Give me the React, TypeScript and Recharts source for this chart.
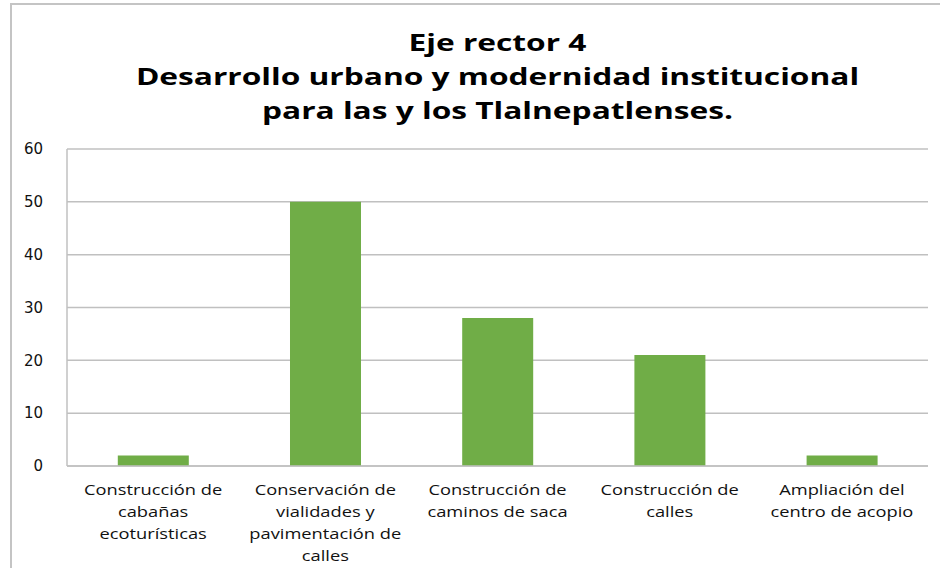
import { BarChart, Bar, CartesianGrid, XAxis, YAxis } from "recharts";

const categories = [
  "Construcción de cabañas ecoturísticas",
  "Conservación de vialidades y pavimentación de calles",
  "Construcción de caminos de saca",
  "Construcción de calles",
  "Ampliación del centro de acopio",
];

const tickLines = [
  ["Construcción de", "cabañas", "ecoturísticas"],
  ["Conservación de", "vialidades y", "pavimentación de", "calles"],
  ["Construcción de", "caminos de saca"],
  ["Construcción de", "calles"],
  ["Ampliación del", "centro de acopio"],
];

const values = [2, 50, 28, 21, 2];

const yTicks = [0, 10, 20, 30, 40, 50, 60];

const titleLines = [
  "Eje rector 4",
  "Desarrollo urbano y modernidad institucional",
  "para las y los Tlalnepatlenses.",
];

const data = categories.map((name, i) => ({ name, value: values[i] }));

// the original picture is stretched sideways, so the text is widened too
function CategoryTick(props: any) {
  const { x, y, index } = props;
  const lines = tickLines[index] ?? [];
  return (
    <text
      transform={`translate(${x},${y}) scale(1.22,1)`}
      x={0}
      y={0}
      textAnchor="middle"
      fill="#111"
      fontSize={15}
      fontFamily="'Open Sans', sans-serif"
    >
      {lines.map((l, i) => (
        <tspan key={i} x={0} dy={i === 0 ? 21 : 22}>
          {l}
        </tspan>
      ))}
    </text>
  );
}

export default function App() {
  return (
    <div
      style={{
        position: "absolute",
        left: 0,
        top: 0,
        width: 940,
        height: 568,
        background: "#fff",
        overflow: "hidden",
      }}
    >
      <div
        style={{
          position: "absolute",
          left: 10,
          top: 3,
          width: 940,
          height: 580,
          borderTop: "2px solid #c4c4c4",
          borderLeft: "2px solid #c4c4c4",
        }}
      />
      <div
        style={{
          position: "absolute",
          left: 67,
          top: 25,
          width: 861,
          textAlign: "center",
          fontFamily: "'Open Sans', sans-serif",
          fontWeight: 700,
          fontSize: 24,
          lineHeight: "34px",
          color: "#000",
          transform: "scaleX(1.32)",
          transformOrigin: "center",
        }}
      >
        {titleLines.map((t, i) => (
          <div key={i}>{t}</div>
        ))}
      </div>
      <BarChart
        width={940}
        height={568}
        data={data}
        margin={{ top: 149, right: 12, left: 10, bottom: 0 }}
        barCategoryGap="29.5%"
        style={{ position: "absolute", left: 0, top: 0 }}
      >
        <CartesianGrid vertical={false} stroke="#c0c0c0" strokeWidth={1.5} />
        <XAxis
          dataKey="name"
          interval={0}
          tickLine={false}
          axisLine={{ stroke: "#c0c0c0", strokeWidth: 1.5 }}
          tick={<CategoryTick />}
          height={102}
        />
        <YAxis
          domain={[0, 60]}
          ticks={yTicks}
          width={57}
          tickLine={false}
          axisLine={{ stroke: "#c0c0c0", strokeWidth: 1.5 }}
          tick={{ fill: "#111", fontSize: 15, fontFamily: "'DejaVu Sans', sans-serif" }}
          tickMargin={18}
        />
        <Bar dataKey="value" fill="#70ad47" isAnimationActive={false} />
      </BarChart>
    </div>
  );
}
